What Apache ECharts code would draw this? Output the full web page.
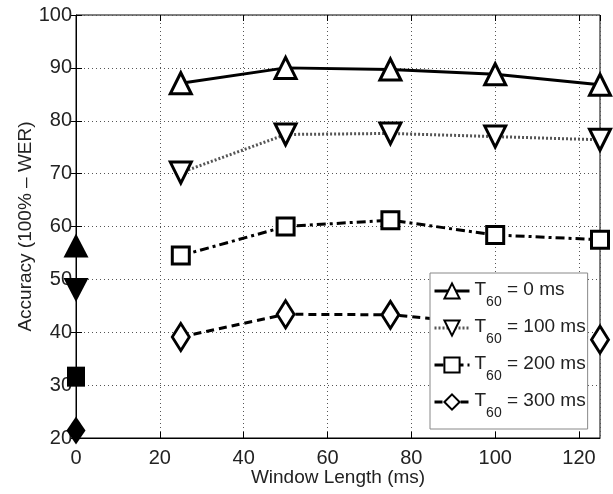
<!DOCTYPE html>
<html>
<head>
<meta charset="utf-8">
<script src="https://cdn.jsdelivr.net/npm/echarts@6/dist/echarts.min.js"></script>
<style>
  html, body { margin: 0; padding: 0; background: #fff; }
  #chart { width: 613px; height: 494px; }
</style>
</head>
<body>
<div id="chart"></div>
<script>
// window lengths (ms)
var windowLen = [25, 50, 75, 100, 125];
var t60 = ['0', '100', '200', '300'];

// accuracy (100% - WER) per T60
var acc0 = [87.1, 90.0, 89.7, 88.8, 86.8];
var acc100 = [70.2, 77.4, 77.6, 77.0, 76.4];
var acc200 = [54.5, 60.0, 61.2, 58.4, 57.5];
var acc300 = [39.1, 43.4, 43.3, 41.5, 38.6];

// baseline values at x = 0 (filled markers)
var base = [56.4, 48.0, 31.6, 21.4];

var font = "'Liberation Sans Narrow', 'Liberation Sans', Arial, sans-serif";
var txt = '#222';

function pairs(ys) {
    return ys.map(function (y, i) { return [windowLen[i], y]; });
}

var names = t60.map(function (t) { return 'T60 = ' + t + ' ms'; });
var symbols = ['triangle', 'triangle', 'rect', 'diamond'];
var rotates = [0, 180, 0, 0];
var sizes = [[21, 21], [21, 21], [17, 17], [17, 27]];
var baseSizes = [[25, 24], [25, 24], [18, 20], [19, 28]];
var lineTypes = ['solid', [2, 2], [9, 4, 3, 4], [8, 5]];
var lineColors = ['#000', '#555', '#000', '#000'];
var values = [acc0, acc100, acc200, acc300];

var series = [];
values.forEach(function (v, i) {
    series.push({
        name: names[i],
        type: 'line',
        data: pairs(v),
        clip: false,
        symbol: symbols[i],
        symbolRotate: rotates[i],
        symbolSize: sizes[i],
        lineStyle: { color: lineColors[i], width: 3, type: lineTypes[i] },
        itemStyle: { color: '#fff', borderColor: '#000', borderWidth: 3 },
        z: 3
    });
});
base.forEach(function (b, i) {
    series.push({
        name: 'base' + i,
        type: 'scatter',
        data: [[0, b]],
        clip: false,
        symbol: symbols[i],
        symbolRotate: rotates[i],
        symbolSize: baseSizes[i],
        itemStyle: { color: '#000', opacity: 1 },
        z: 4
    });
});

var myChart = echarts.init(document.getElementById('chart'));
var option = {
    animation: false,
    textStyle: { fontFamily: font },
    grid: {
        left: 76, right: 13, top: 15, bottom: 56,
        show: true, borderColor: '#000', borderWidth: 1,
        containLabel: false
    },
    legend: {
        data: names,
        orient: 'vertical',
        left: 430,
        top: 273,
        backgroundColor: '#fff',
        borderColor: '#888',
        borderWidth: 1,
        padding: [7, 2, 9, 3],
        itemGap: 8,
        itemWidth: 35,
        itemHeight: 19,
        lineStyle: { width: 3 },
        z: 10,
        formatter: function (n) {
            return n.replace('T60', '{a|T}{b|60}{a|') + '}';
        },
        textStyle: {
            fontFamily: font,
            color: txt,
            rich: {
                a: { fontSize: 19, fontFamily: font, color: txt, verticalAlign: 'top', lineHeight: 22 },
                b: { fontSize: 14, fontFamily: font, color: txt, verticalAlign: 'top', lineHeight: 15, padding: [15, 0, 0, 0] }
            }
        }
    },
    xAxis: [{
        type: 'value',
        min: 0, max: 125, interval: 20,
        name: 'Window Length (ms)',
        nameLocation: 'middle',
        nameGap: 30,
        nameMoveOverlap: false,
        nameTextStyle: { fontSize: 19, color: txt, fontFamily: font },
        axisLine: { show: true, lineStyle: { color: '#000', width: 1 } },
        axisTick: { inside: true, length: 6, lineStyle: { color: '#000' } },
        axisLabel: {
            fontSize: 20, color: txt, margin: 10, showMaxLabel: false,
            formatter: function (v) { return v === 125 ? '' : v; }
        },
        splitLine: { show: true, lineStyle: { color: '#555', type: [1, 3], width: 1 } }
    }, {
        type: 'value', position: 'top',
        min: 0, max: 125, interval: 20,
        axisLine: { show: false },
        axisTick: { inside: true, length: 6, lineStyle: { color: '#000' } },
        axisLabel: { show: false },
        splitLine: { show: false }
    }],
    yAxis: [{
        type: 'value',
        min: 20, max: 100, interval: 10,
        name: 'Accuracy (100% \u2013 WER)',
        nameLocation: 'middle',
        nameGap: 41,
        nameMoveOverlap: false,
        nameTextStyle: { fontSize: 19, color: txt, fontFamily: font },
        axisLine: { show: true, lineStyle: { color: '#000', width: 1 } },
        axisTick: { inside: true, length: 6, lineStyle: { color: '#000' } },
        axisLabel: { fontSize: 20, color: txt, margin: 4 },
        splitLine: { show: true, lineStyle: { color: '#555', type: [1, 3], width: 1 } }
    }, {
        type: 'value', position: 'right',
        min: 20, max: 100, interval: 10,
        axisLine: { show: false },
        axisTick: { inside: true, length: 6, lineStyle: { color: '#000' } },
        axisLabel: { show: false },
        splitLine: { show: false }
    }],
    series: series
};

myChart.setOption(option);
window.addEventListener('resize', function () {
    myChart.resize();
});
</script>
</body>
</html>
